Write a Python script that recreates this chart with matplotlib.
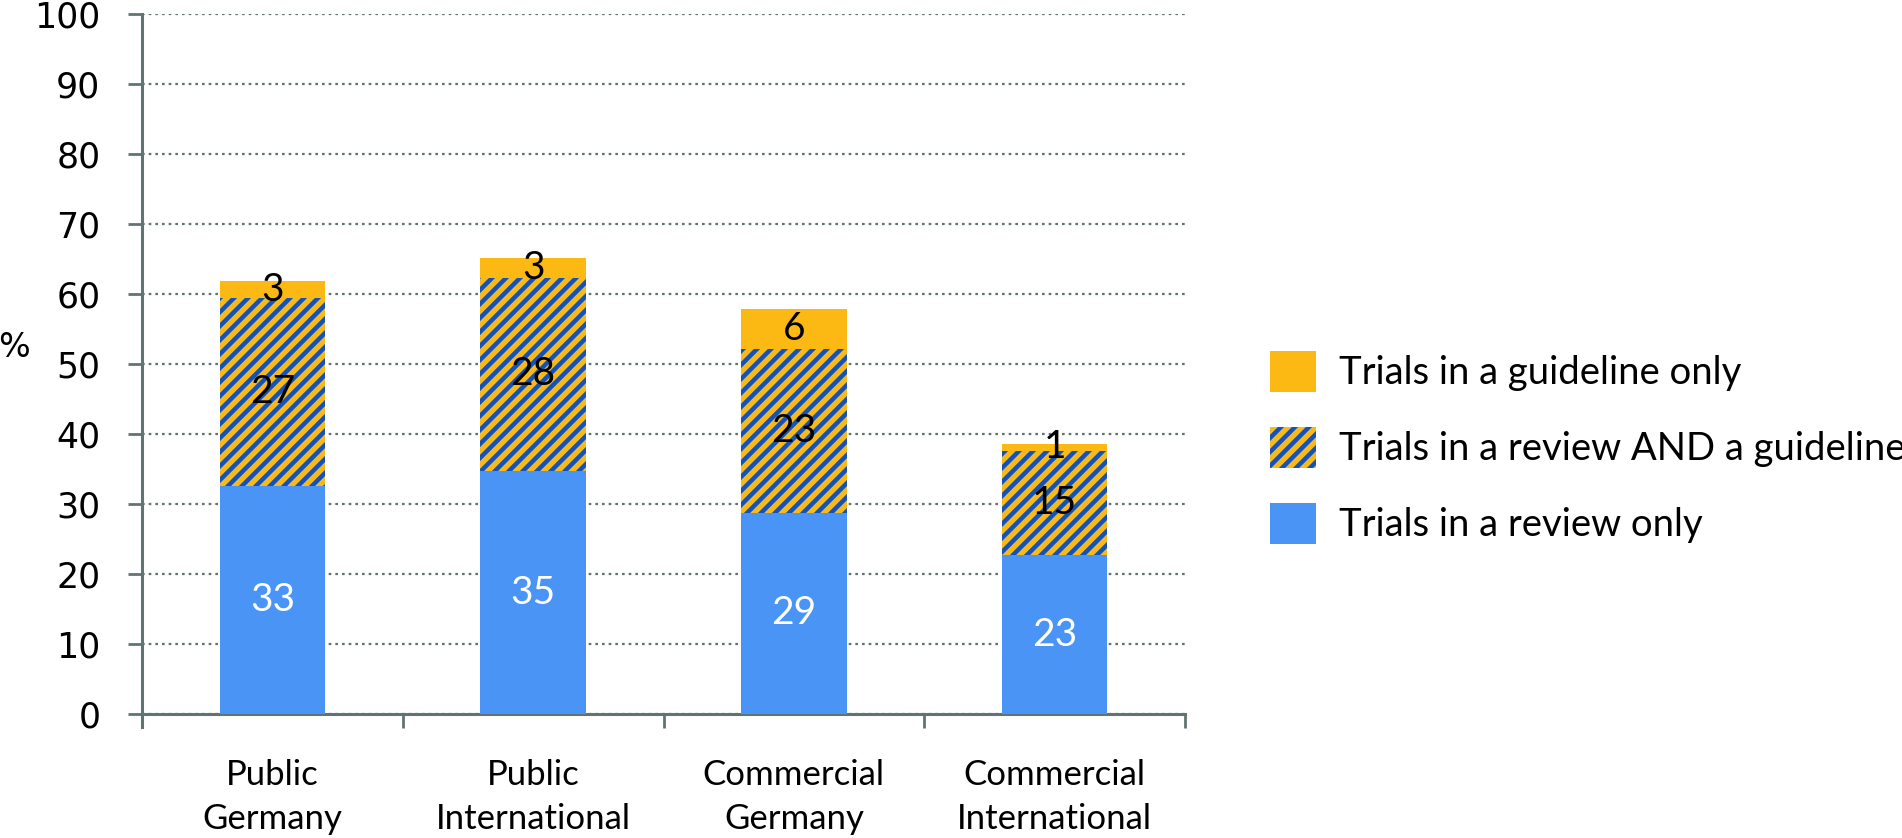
import matplotlib
matplotlib.use("Agg")
import matplotlib.pyplot as plt
from matplotlib.patches import Patch
import numpy as np

categories = ["Public\nGermany", "Public\nInternational", "Commercial\nGermany", "Commercial\nInternational"]
review_only = [32.6, 34.7, 28.8, 22.7]
review_and_guideline = [26.8, 27.7, 23.4, 14.9]
guideline_only = [2.5, 2.8, 5.7, 1.0]
review_only_labels = ["33", "35", "29", "23"]
both_labels = ["27", "28", "23", "15"]
guideline_labels = ["3", "3", "6", "1"]
series_names = ["Trials in a review only", "Trials in a review AND a guideline", "Trials in a guideline only"]
yticks = list(range(0, 101, 10))

BLUE = "#4A94F5"
ORANGE = "#FDB913"
HATCH_BLUE = "#0E52C4"
AXIS = "#637373"
LABEL_FONT = ["Lato", "DejaVu Sans"]

DPI = 84            # chosen so the '//' hatch period matches the reference
k = 100.0 / DPI     # point-size scale so sizes look as at 100 dpi

plt.rcParams["hatch.linewidth"] = 3.8
plt.rcParams["hatch.color"] = HATCH_BLUE

fig = plt.figure(figsize=(1902 / DPI, 838 / DPI), dpi=DPI)
ax = fig.add_axes([0.0747, 0.148, 0.623 - 0.0747, 0.9827 - 0.148])

x = np.arange(len(categories))
w = 0.405
r = np.array(review_only)
b = np.array(review_and_guideline)
g = np.array(guideline_only)

ax.bar(x, r, w, color=BLUE, linewidth=0, zorder=3)
ax.bar(x, b, w, bottom=r, color=ORANGE, edgecolor=HATCH_BLUE, hatch="//", linewidth=0, zorder=3)
ax.bar(x, g, w, bottom=r + b, color=ORANGE, linewidth=0, zorder=3)

for i in range(len(categories)):
    ax.text(x[i], r[i] / 2, review_only_labels[i], ha="center", va="center",
            color="white", fontsize=28 * k, family=LABEL_FONT, zorder=5)
    ax.text(x[i], r[i] + b[i] / 2, both_labels[i], ha="center", va="center",
            color="black", fontsize=28 * k, family=LABEL_FONT, zorder=5)
    ax.text(x[i], r[i] + b[i] + g[i] / 2, guideline_labels[i], ha="center", va="center",
            color="black", fontsize=28 * k, family=LABEL_FONT, zorder=5)

ax.set_xlim(-0.5, 3.5)
ax.set_ylim(0, 100)
ax.set_yticks(yticks)
ax.set_yticklabels([str(t) for t in yticks], fontsize=25 * k, family="DejaVu Sans")
ax.set_xticks(x)
ax.set_xticklabels(categories, fontsize=25 * k, family=LABEL_FONT, linespacing=1.45)
ax.set_xticks(np.arange(-0.5, 4.0, 1.0), minor=True)
ax.tick_params(axis="x", which="major", length=0, pad=32.5 * k)
ax.tick_params(axis="x", which="minor", length=10 * k, width=2 * k, color=AXIS, direction="out")
ax.tick_params(axis="y", length=10 * k, width=2 * k, color=AXIS, direction="out", pad=20 * k)

for s in ["top", "right"]:
    ax.spines[s].set_visible(False)
for s in ["left", "bottom"]:
    ax.spines[s].set_color(AXIS)
    ax.spines[s].set_linewidth(2.2 * k)
ax.spines["left"].set_bounds(-1.8, 100)

ax.yaxis.grid(True, color=AXIS, linestyle=(0, (1.2, 1.8)), linewidth=1.6 * k, zorder=0)
ax.set_axisbelow(True)

ax.set_ylabel("%", rotation=0, fontsize=24 * k, family="DejaVu Sans")
ax.yaxis.set_label_coords(-0.123, 0.5)

handles = [
    Patch(facecolor=ORANGE, linewidth=0),
    Patch(facecolor=ORANGE, edgecolor=HATCH_BLUE, hatch="//", linewidth=0),
    Patch(facecolor=BLUE, linewidth=0),
]
labels = [series_names[2], series_names[1], series_names[0]]
leg = fig.legend(handles, labels, loc="center left", bbox_to_anchor=(0.6677, 0.466),
                 frameon=False, prop={"family": LABEL_FONT, "size": 27.5 * k},
                 borderpad=0, borderaxespad=0,
                 handlelength=1.2, handleheight=1.27, labelspacing=0.92, handletextpad=0.6)

fig.savefig("out.png", dpi=DPI)
